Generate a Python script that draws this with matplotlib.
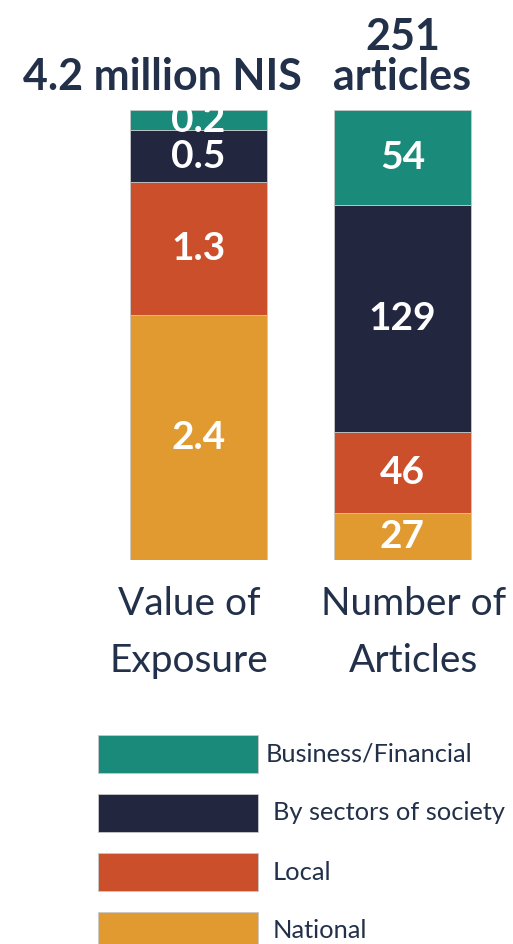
import matplotlib.pyplot as plt
from matplotlib.patches import Rectangle

# data
bars = [('Value of', 'Exposure'), ('Number of', 'Articles')]
categories = ['National', 'Local', 'By sectors of society', 'Business/Financial']
exposure = [2.4, 1.3, 0.5, 0.2]        # million NIS
articles = [27, 46, 129, 54]
totals = [('4.2 million NIS',), ('251', 'articles')]
legend_order = ['Business/Financial', 'By sectors of society', 'Local', 'National']

colors = {
    'Business/Financial': '#1a8a7a',
    'By sectors of society': '#22263f',
    'Local': '#cc4f2c',
    'National': '#e09a30',
}
dark = '#22304a'

plt.rcParams['font.family'] = ['Lato', 'DejaVu Sans']

W, H = 513, 944
fig = plt.figure(figsize=(W / 100, H / 100), dpi=100)

# bar axes: plot area spans y=110..560 px, 4.5 px per unit
ax = fig.add_axes([0, (H - 560) / H, 1, 450 / H])
ax.set_xlim(-0.973, 1.542)
ax.set_ylim(0, 100)
ax.axis('off')
px = 450 / 100  # pixels per y unit

width = 0.672
for i, vals in enumerate([exposure, articles]):
    tot = sum(vals)
    bottom = 0
    for cat, v in zip(categories, vals):
        h = v / tot * 100
        ax.bar(i, h, width, bottom=bottom, color=colors[cat],
               edgecolor='#c8c8c8', linewidth=0.6)
        ax.text(i, bottom + h / 2, f'{v:g}', ha='center', va='center',
                color='white', fontsize=28, fontweight='bold')
        bottom += h

# totals above bars (baselines in px from top)
ax.text(-0.179, 100 + 20 / px, totals[0][0], ha='center', va='baseline',
        color=dark, fontsize=31, fontweight='bold')
ax.text(1, 100 + 60 / px, totals[1][0], ha='center', va='baseline',
        color=dark, fontsize=31, fontweight='bold')
ax.text(1, 100 + 20 / px, totals[1][1], ha='center', va='baseline',
        color=dark, fontsize=31, fontweight='bold')

# category labels under bars
offsets = [-0.045, 0.055]
for i, (l1, l2) in enumerate(bars):
    ax.text(i + offsets[i], -55 / px, l1, ha='center', va='baseline',
            color=dark, fontsize=28)
    ax.text(i + offsets[i], -112 / px, l2, ha='center', va='baseline',
            color=dark, fontsize=28)

# legend drawn by hand
for k, cat in enumerate(legend_order):
    y0 = 735 + k * 59
    fig.patches.append(Rectangle((98 / W, 1 - (y0 + 38) / H), 160 / W, 38 / H,
                                 transform=fig.transFigure, color=colors[cat],
                                 ec='#c8c8c8', lw=0.6))
    fig.text((266 if k == 0 else 273) / W, 1 - (y0 + 19) / H, cat,
             ha='left', va='center', color=dark, fontsize=18.3)

fig.savefig('out.png', dpi=100)
